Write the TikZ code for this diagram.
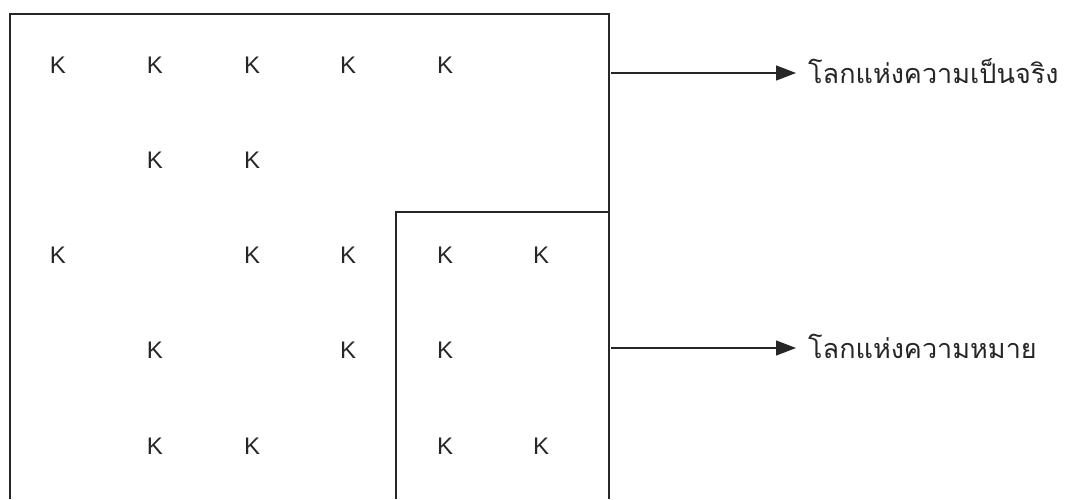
\documentclass[tikz,border=0pt]{standalone}
\usepackage{fontspec}
\setmainfont{Liberation Sans}
\newfontfamily\thaifont[Script=Thai]{Loma}
\usetikzlibrary{arrows.meta}
\begin{document}
\begin{tikzpicture}[x=1pt,y=-1pt,
  frame/.style={line width=1.6pt, draw=black!85},
  kk/.style={font=\fontsize{24}{24}\selectfont, inner sep=0pt, text=black!85},
  lab/.style={font=\thaifont\fontsize{27}{30}\selectfont, anchor=west, inner sep=0pt, text=black!85},
  arr/.style={line width=1.3pt, draw=black!85, shorten >=12pt, -{Triangle[length=20pt,width=15pt]}}]
\useasboundingbox (0,0) rectangle (1067,499);
\draw[frame] (10,499) -- (10,14) -- (609,14) -- (609,499);
\draw[frame] (396,499) -- (396,212) -- (609,212);
% K letters
\foreach \x/\y [count=\i] in {58/65,155/65,252/65,348/65,445/65,
  155/160,252/160,
  58/255,252/255,348/255,445/255,541/255,
  155/350,348/350,445/350,
  155/446,252/446,445/446,541/446}
  \node[kk] (k\i) at (\x,\y) {K};
\coordinate (a1) at (611,73);
\coordinate (a2) at (611,348);
\node[lab] (t1) at (808,71) {โลกแห่งความเป็นจริง};
\node[lab] (t2) at (808,346) {โลกแห่งความหมาย};
\draw[arr] (a1) -- (t1.west |- a1);
\draw[arr] (a2) -- (t2.west |- a2);
\end{tikzpicture}
\end{document}
